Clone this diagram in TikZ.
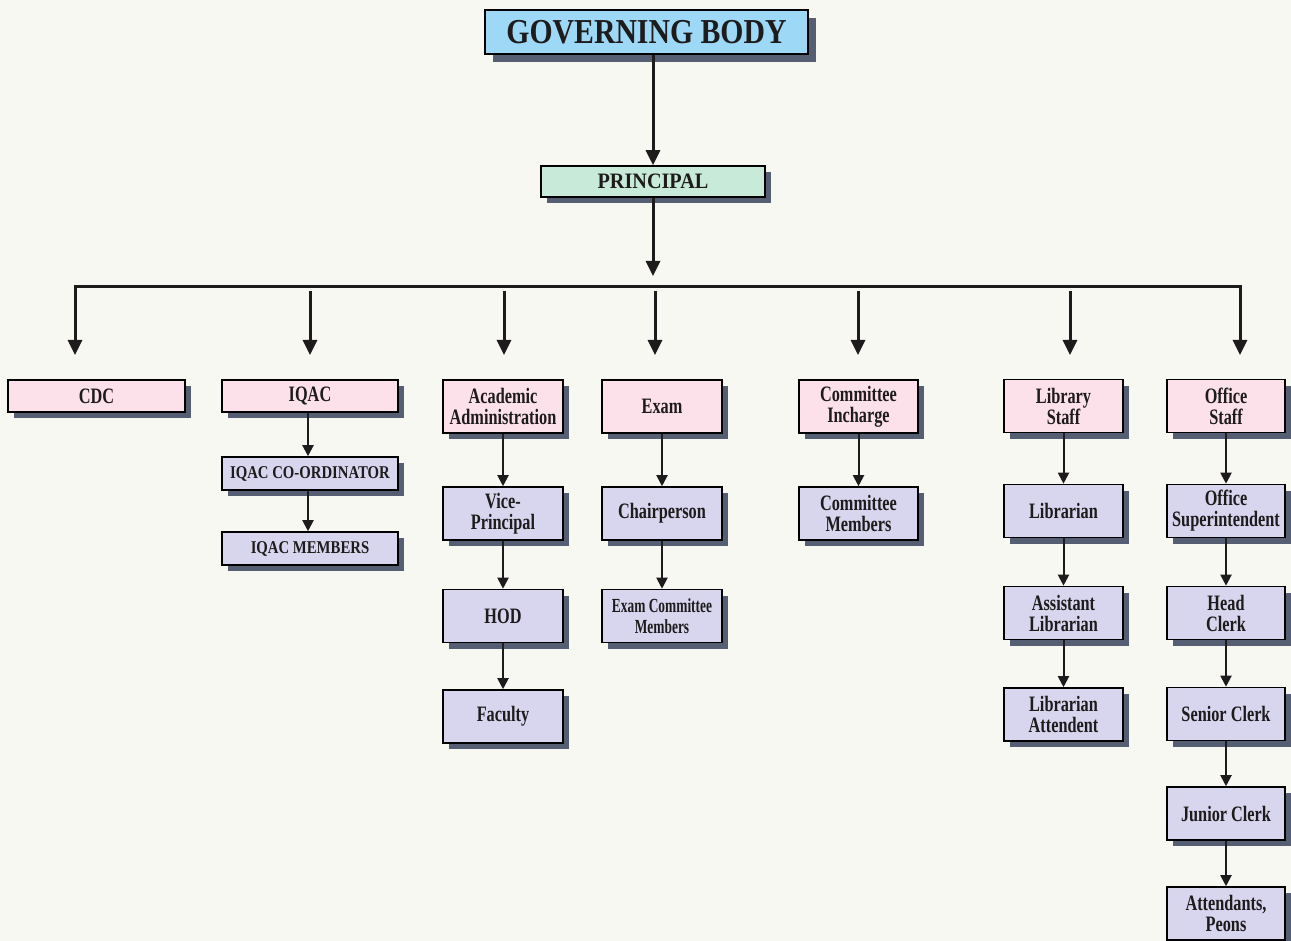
\documentclass[tikz,border=0pt]{standalone}
\usepackage{fontspec}
\setmainfont{Liberation Serif}[FakeStretch=0.74]
\newfontfamily\fGB{Liberation Serif}[FakeStretch=0.85]
\newfontfamily\fPR{Liberation Serif}[FakeStretch=0.92]
\newfontfamily\fIQ{Liberation Serif}[FakeStretch=0.82]
\newfontfamily\fEC{Liberation Serif}[FakeStretch=0.67]
\usetikzlibrary{arrows.meta,shadows}
\definecolor{bgcol}{HTML}{F8F8F3}
\definecolor{gbblue}{HTML}{9DD8F6}
\definecolor{prgreen}{HTML}{C8EAD8}
\definecolor{lvpink}{HTML}{FCE0EA}
\definecolor{lvlav}{HTML}{D8D5EE}
\definecolor{shadowcol}{HTML}{555E72}
\definecolor{ink}{HTML}{1E1B1C}
\tikzset{
  boxbase/.style={draw=black, line width=1.6pt, align=center, inner sep=0pt, text=ink,
    font=\fontsize{22}{21}\selectfont\bfseries},
  shad/.style={drop shadow={shadow xshift=6pt, shadow yshift=-6pt, fill=shadowcol, opacity=1}},
  box/.style={boxbase, shad},
  lvone/.style={box, fill=lvpink, minimum width=120pt, minimum height=53pt},
  lvtwo/.style={box, fill=lvlav, minimum width=120pt, minimum height=53pt},
  arr/.style={draw=ink, line width=2pt, -{Triangle[width=11pt,length=11pt]}},
  bigarr/.style={draw=ink, line width=3pt, -{Triangle[width=14pt,length=15pt]}},
}
\begin{document}
\begin{tikzpicture}[x=1pt,y=-1pt]
\fill[bgcol] (0,0) rectangle (1291,941);
\useasboundingbox (0,0) rectangle (1291,941);

% top
\node[boxbase, fill=gbblue, minimum width=323pt, minimum height=44pt,
  font=\fGB\fontsize{35}{36}\selectfont\bfseries,
  drop shadow={shadow xshift=8pt, shadow yshift=-8pt, fill=shadowcol, opacity=1}] (gb) at (646.5,32) {GOVERNING BODY};
\node[box, fill=prgreen, minimum width=224pt, minimum height=31pt,
  font=\fPR\fontsize{22}{22}\selectfont\bfseries] (pr) at (653,181.5) {PRINCIPAL};

% level one
\node[box, fill=lvpink, minimum width=177pt, minimum height=32pt] (cdc) at (96.5,396) {CDC};
\node[box, fill=lvpink, minimum width=176pt, minimum height=32pt] (iqac) at (310,396) {IQAC};
\node[box, fill=lvlav, minimum width=176pt, minimum height=33pt, font=\fIQ\fontsize{18}{19}\selectfont\bfseries] (iqacco) at (310,473.5) {IQAC CO-ORDINATOR};
\node[box, fill=lvlav, minimum width=176pt, minimum height=33pt, font=\fIQ\fontsize{18}{19}\selectfont\bfseries] (iqacmem) at (310,548.5) {IQAC MEMBERS};

\node[lvone] (acad) at (503,406.5) {Academic\\Administration};
\node[lvtwo] (vp) at (503,513.5) {Vice-\\Principal};
\node[lvtwo] (hod) at (503,616) {HOD};
\node[lvtwo] (fac) at (503,716.5) {Faculty};

\node[lvone] (exam) at (662,406.5) {Exam};
\node[lvtwo] (chair) at (662,513.5) {Chairperson};
\node[lvtwo, font=\fEC\fontsize{20}{21}\selectfont\bfseries] (ecm) at (662,616) {Exam Committee\\Members};

\node[lvone, minimum width=119pt] (cinc) at (858.5,406.5) {Committee\\Incharge};
\node[lvtwo, minimum width=119pt] (cmem) at (858.5,513.5) {Committee\\Members};

\node[lvone, minimum width=119pt] (lib) at (1063.5,406) {Library\\Staff};
\node[lvtwo, minimum width=119pt] (libr) at (1063.5,511) {Librarian};
\node[lvtwo, minimum width=119pt] (alib) at (1063.5,613) {Assistant\\Librarian};
\node[lvtwo, minimum width=119pt] (latt) at (1063.5,714.5) {Librarian\\Attendent};

\node[lvone, minimum width=118pt] (off) at (1226,406) {Office\\Staff};
\node[lvtwo, minimum width=118pt] (osup) at (1226,511) {Office\\Superintendent};
\node[lvtwo, minimum width=118pt] (hc) at (1226,613) {Head\\Clerk};
\node[lvtwo, minimum width=118pt] (sc) at (1226,714) {Senior Clerk};
\node[lvtwo, minimum width=118pt] (jc) at (1226,813.5) {Junior Clerk};
\node[lvtwo, minimum width=118pt] (att) at (1226,913.5) {Attendants,\\Peons};

% main connectors
\draw[bigarr] (gb.south -| pr.north) -- (pr.north);
\coordinate (prtip) at (653,276);
\draw[bigarr] (pr.south) -- (prtip);

\coordinate (bl) at (75,287);
\coordinate (br) at (1240,287);
\coordinate (t1) at (75,355);
\coordinate (t7) at (1240,355);
\draw[draw=ink, line width=3pt, {Triangle[width=14pt,length=15pt]}-{Triangle[width=14pt,length=15pt]}]
  (t1) -- (bl) -- (br) -- (t7);
\foreach \n/\xx in {2/310,3/504,4/655,5/858,6/1070}{
  \coordinate (s\n) at (\xx,291);
  \coordinate (t\n) at (\xx,355);
  \draw[bigarr] (s\n) -- (t\n);
}

% chains
\draw[arr] (iqac.south -| 308,0) -- (iqacco.north -| 308,0);
\draw[arr] (iqacco.south -| 308,0) -- (iqacmem.north -| 308,0);
\draw[arr] (acad) -- (vp);
\draw[arr] (vp) -- (hod);
\draw[arr] (hod) -- (fac);
\draw[arr] (exam) -- (chair);
\draw[arr] (chair) -- (ecm);
\draw[arr] (cinc) -- (cmem);
\draw[arr] (lib) -- (libr);
\draw[arr] (libr) -- (alib);
\draw[arr] (alib) -- (latt);
\draw[arr] (off) -- (osup);
\draw[arr] (osup) -- (hc);
\draw[arr] (hc) -- (sc);
\draw[arr] (sc) -- (jc);
\draw[arr] (jc) -- (att);
\end{tikzpicture}
\end{document}
